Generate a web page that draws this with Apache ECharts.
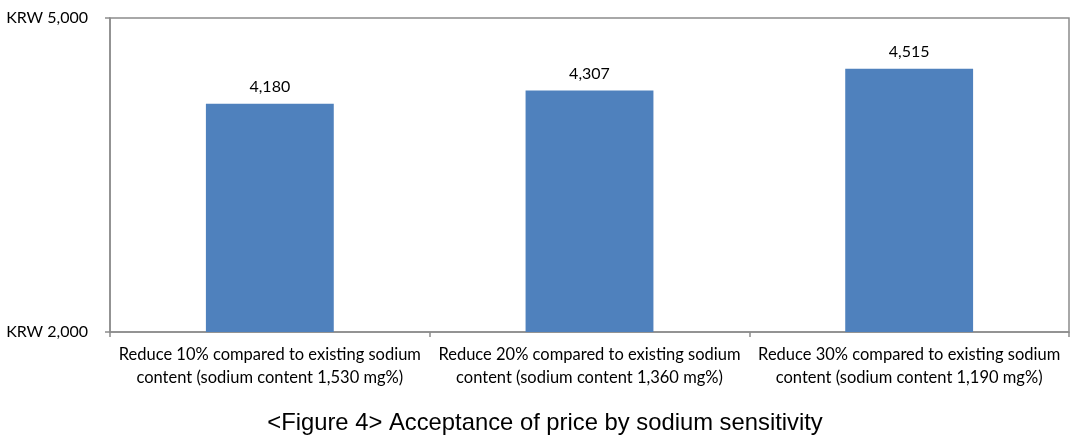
<!DOCTYPE html>
<html>
<head>
<meta charset="utf-8">
<script src="https://cdn.jsdelivr.net/npm/echarts@6/dist/echarts.min.js"></script>
<style>
html,body{margin:0;padding:0;background:#fff;}
#c{width:1090px;height:440px;}
</style>
</head>
<body>
<div id="c"></div>
<script>
const categories = [
  "Reduce 10% compared to existing sodium\ncontent (sodium content 1,530 mg%)",
  "Reduce 20% compared to existing sodium\ncontent (sodium content 1,360 mg%)",
  "Reduce 30% compared to existing sodium\ncontent (sodium content 1,190 mg%)"
];
const values = [4180, 4307, 4515];
const yMin = 2000;
const yMax = 5000;
const yInterval = 3000;
const titleText = "<Figure 4> Acceptance of price by sodium sensitivity";

const fmt = v => v.toLocaleString('en-US');
const chart = echarts.init(document.getElementById('c'), null, {renderer: 'canvas'});
const axisGray = '#8c8c8c';
chart.setOption({
  animation: false,
  backgroundColor: '#fff',
  title: {
    text: titleText,
    left: 'center',
    top: 406,
    textStyle: {fontFamily: 'Liberation Sans', fontSize: 23.8, fontWeight: 'normal', color: '#000'}
  },
  grid: {
    left: 110, right: 21, top: 18, bottom: 108,
    show: true, borderColor: axisGray, borderWidth: 1.5, backgroundColor: 'transparent'
  },
  xAxis: {
    type: 'category',
    data: categories,
    axisLine: {lineStyle: {color: axisGray, width: 1.5}},
    axisTick: {show: true, length: 5, lineStyle: {color: axisGray, width: 1.5}},
    axisLabel: {
      interval: 0, margin: 11, color: '#000',
      fontFamily: 'Lato', fontSize: 16.5, lineHeight: 23, align: 'center'
    }
  },
  yAxis: {
    type: 'value',
    min: yMin, max: yMax, interval: yInterval,
    splitLine: {show: false},
    axisLine: {show: true, lineStyle: {color: axisGray, width: 1.5}},
    axisTick: {show: true, length: 5, lineStyle: {color: axisGray, width: 1.5}},
    axisLabel: {
      margin: 22, color: '#000', fontFamily: 'Lato', fontSize: 16,
      formatter: v => 'KRW ' + fmt(v)
    }
  },
  series: [{
    type: 'bar',
    data: values,
    barWidth: '40%',
    itemStyle: {color: '#4f81bd'},
    label: {
      show: true, position: 'top', distance: 9,
      color: '#000', fontFamily: 'Lato', fontSize: 16,
      formatter: p => fmt(p.value)
    }
  }]
});
</script>
</body>
</html>
